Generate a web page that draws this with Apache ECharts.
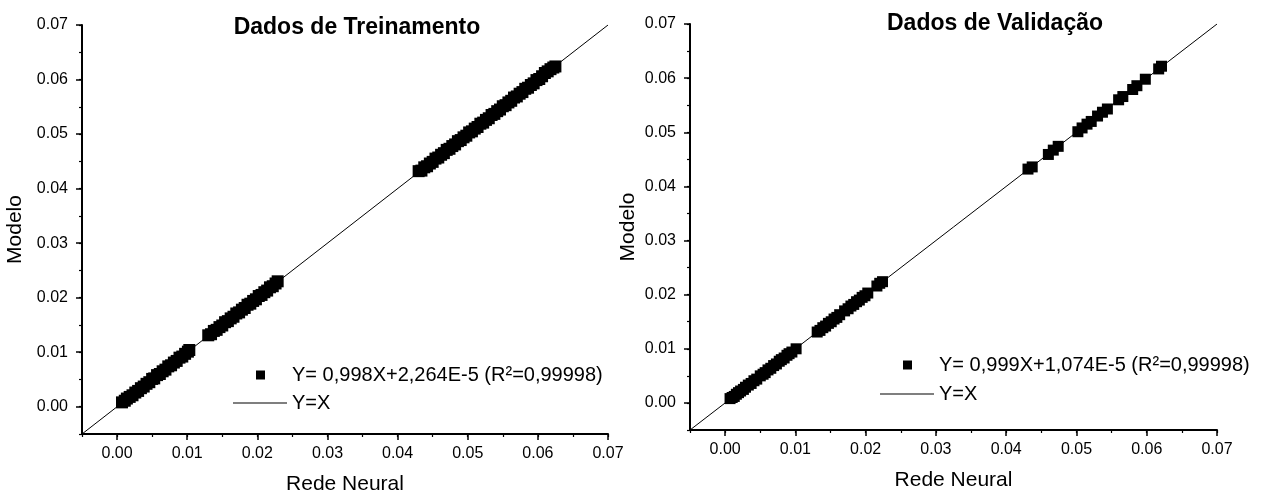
<!DOCTYPE html>
<html>
<head>
<meta charset="utf-8">
<script src="https://cdn.jsdelivr.net/npm/echarts@6/dist/echarts.min.js"></script>
<style>html,body{margin:0;padding:0;background:#fff}#c{width:1263px;height:494px}</style>
</head>
<body>
<div id="c"></div>
<script>
// ---------- data ----------
const titles = ['Dados de Treinamento', 'Dados de Validação'];
const xAxisName = 'Rede Neural';
const yAxisName = 'Modelo';
const tickValues = [0.00, 0.01, 0.02, 0.03, 0.04, 0.05, 0.06, 0.07];
const axisMin = -0.005;
const axisMax = 0.07;
const minorStep = 0.005;
const fitLabels = ['Y= 0,998X+2,264E-5 (R²=0,99998)', 'Y= 0,999X+1,074E-5 (R²=0,99998)'];
const refLabel = 'Y=X';
const refLineX = [-0.005, 0.07];
const refLineY = [-0.005, 0.07];

// Training (Rede Neural, Modelo)
const trainX = [
  0.0007,0.0011,0.0014,0.0018,0.0022,0.0026,0.0030,0.0034,0.0038,0.0042,0.0046,0.0050,0.0053,
  0.0057,0.0061,0.0065,0.0069,0.0073,0.0077,0.0081,0.0085,0.0089,0.0093,0.0097,0.0101,0.0103,
  0.0130,0.0134,0.0138,0.0142,0.0146,0.0150,0.0154,0.0158,0.0162,0.0166,0.0170,0.0174,0.0178,
  0.0182,0.0186,0.0190,0.0194,0.0198,0.0202,0.0206,0.0210,0.0214,0.0218,0.0222,0.0226,0.0229,
  0.0430,0.0434,0.0438,0.0442,0.0446,0.0450,0.0454,0.0458,0.0462,0.0466,0.0470,0.0474,0.0478,
  0.0482,0.0486,0.0490,0.0494,0.0498,0.0502,0.0506,0.0510,0.0514,0.0518,0.0522,0.0526,0.0530,
  0.0534,0.0538,0.0542,0.0546,0.0550,0.0554,0.0558,0.0562,0.0566,0.0570,0.0574,0.0578,0.0582,
  0.0586,0.0590,0.0594,0.0598,0.0602,0.0606,0.0610,0.0614,0.0618,0.0622,0.0625
];
const trainY = [
  0.0008,0.0011,0.0015,0.0018,0.0021,0.0026,0.0029,0.0034,0.0037,0.0042,0.0045,0.0051,0.0052,
  0.0058,0.0060,0.0065,0.0068,0.0074,0.0076,0.0081,0.0084,0.0090,0.0092,0.0097,0.0101,0.0104,
  0.0131,0.0133,0.0139,0.0141,0.0146,0.0149,0.0155,0.0157,0.0162,0.0165,0.0171,0.0173,0.0178,
  0.0181,0.0187,0.0189,0.0194,0.0197,0.0203,0.0205,0.0210,0.0213,0.0219,0.0221,0.0226,0.0230,
  0.0432,0.0433,0.0439,0.0441,0.0446,0.0449,0.0455,0.0457,0.0462,0.0465,0.0471,0.0473,0.0478,
  0.0481,0.0487,0.0489,0.0494,0.0497,0.0503,0.0505,0.0510,0.0513,0.0519,0.0521,0.0526,0.0529,
  0.0535,0.0537,0.0542,0.0545,0.0551,0.0553,0.0558,0.0561,0.0567,0.0569,0.0574,0.0577,0.0583,
  0.0585,0.0590,0.0593,0.0599,0.0601,0.0606,0.0612,0.0615,0.0619,0.0622,0.0624
];

// Validation (Rede Neural, Modelo)
const validX = [
  0.0007,0.0010,0.0013,0.0016,0.0019,0.0022,0.0026,0.0029,0.0033,0.0037,0.0041,0.0045,0.0050,
  0.0054,0.0057,0.0061,0.0065,0.0069,0.0073,0.0077,0.0080,0.0084,0.0088,0.0091,0.0095,0.0101,
  0.0131,0.0135,0.0139,0.0143,0.0147,0.0151,0.0155,0.0159,0.0163,0.0170,0.0175,0.0179,0.0183,
  0.0187,0.0191,0.0195,0.0199,0.0203,0.0216,0.0220,0.0224,
  0.0431,0.0437,0.0460,0.0467,0.0474,0.0502,0.0508,0.0515,0.0521,0.0530,0.0537,0.0544,0.0560,
  0.0566,0.0580,0.0586,0.0598,0.0617,0.0621
];
const validY = [
  0.0008,0.0010,0.0012,0.0016,0.0019,0.0022,0.0025,0.0029,0.0033,0.0036,0.0041,0.0044,0.0050,
  0.0053,0.0056,0.0061,0.0064,0.0069,0.0072,0.0077,0.0080,0.0083,0.0088,0.0091,0.0094,0.0100,
  0.0131,0.0134,0.0139,0.0142,0.0147,0.0150,0.0155,0.0158,0.0163,0.0170,0.0174,0.0179,0.0182,
  0.0187,0.0190,0.0195,0.0198,0.0203,0.0216,0.0221,0.0224,
  0.0432,0.0436,0.0459,0.0467,0.0474,0.0501,0.0508,0.0515,0.0520,0.0530,0.0537,0.0543,0.0560,
  0.0566,0.0579,0.0586,0.0598,0.0617,0.0622
];

// ---------- chart ----------
const FONT = "'Liberation Sans', Arial, sans-serif";
const pairs = (xs, ys) => xs.map((x, i) => [x, ys[i]]);
const fmt = v => v.toFixed(2);

const grids = [
  { left: 82, top: 25, width: 526, height: 409, outerBoundsMode: 'none', containLabel: false },
  { left: 690, top: 24, width: 527, height: 406, outerBoundsMode: 'none', containLabel: false }
];

const xAxes = [], yAxes = [];
const yNameGaps = [56, 51];
grids.forEach((g, gi) => {
  xAxes.push({
    type: 'value', gridIndex: gi, position: 'bottom', min: axisMin, max: axisMax, interval: minorStep,
    name: xAxisName, nameLocation: 'middle', nameGap: 40,
    nameTextStyle: { fontFamily: FONT, fontSize: 21, color: '#000' },
    axisLine: { show: true, onZero: false, lineStyle: { color: '#000', width: 2 } },
    axisTick: { show: true, length: 6, customValues: tickValues, lineStyle: { color: '#000', width: 1.5 } },
    axisLabel: { show: true, customValues: tickValues, formatter: fmt, margin: 12, fontFamily: FONT, fontSize: 16, color: '#000' },
    splitLine: { show: false }
  });
  xAxes.push({
    type: 'value', gridIndex: gi, position: 'bottom', offset: 0, min: axisMin, max: axisMax, interval: minorStep,
    axisLine: { show: false, onZero: false },
    axisTick: { show: true, length: 3, lineStyle: { color: '#000', width: 1.2 } },
    axisLabel: { show: false }, splitLine: { show: false }
  });
  yAxes.push({
    type: 'value', gridIndex: gi, position: 'left', min: axisMin, max: axisMax, interval: minorStep,
    name: yAxisName, nameLocation: 'middle', nameGap: yNameGaps[gi],
    nameTextStyle: { fontFamily: FONT, fontSize: 21, color: '#000' },
    axisLine: { show: true, onZero: false, lineStyle: { color: '#000', width: 2 } },
    axisTick: { show: true, length: 6, customValues: tickValues, lineStyle: { color: '#000', width: 1.5 } },
    axisLabel: { show: true, customValues: tickValues, formatter: fmt, margin: 14, fontFamily: FONT, fontSize: 16, color: '#000' },
    splitLine: { show: false }
  });
  yAxes.push({
    type: 'value', gridIndex: gi, position: 'left', offset: 0, min: axisMin, max: axisMax, interval: minorStep,
    axisLine: { show: false, onZero: false },
    axisTick: { show: true, length: 3, lineStyle: { color: '#000', width: 1.2 } },
    axisLabel: { show: false }, splitLine: { show: false }
  });
});

const sets = [pairs(trainX, trainY), pairs(validX, validY)];
const series = [];
sets.forEach((d, gi) => {
  series.push({
    name: refLabel, type: 'line', xAxisIndex: gi * 2, yAxisIndex: gi * 2,
    data: pairs(refLineX, refLineY), symbol: 'none', color: '#000',
    lineStyle: { color: '#000', width: 1 }, z: 2, silent: true
  });
  series.push({
    name: fitLabels[gi], type: 'scatter', xAxisIndex: gi * 2, yAxisIndex: gi * 2,
    data: d, symbol: 'rect', symbolSize: gi === 0 ? 12 : 11, color: '#000',
    itemStyle: { color: '#000', opacity: 1 }, z: 3, silent: true
  });
});

const sqIcon = 'path://M0,4h0.01v0.01zM23,0h9v9h-9zM54,4h-0.01v0.01z';
const legendBase = {
  orient: 'vertical', selectedMode: false, itemGap: 0, padding: 0,
  textStyle: { fontFamily: FONT, fontSize: 20, color: '#000' }
};
const legends = [
  Object.assign({}, legendBase, { left: 233, top: 365, data: [{ name: fitLabels[0], icon: sqIcon }], itemWidth: 54, itemHeight: 9 }),
  Object.assign({}, legendBase, { left: 233, top: 393, data: [{ name: refLabel, icon: 'rect' }], itemWidth: 54, itemHeight: 1 }),
  Object.assign({}, legendBase, { left: 880, top: 355, data: [{ name: fitLabels[1], icon: sqIcon }], itemWidth: 54, itemHeight: 9 }),
  Object.assign({}, legendBase, { left: 880, top: 384, data: [{ name: refLabel, icon: 'rect' }], itemWidth: 54, itemHeight: 1 })
];

const chart = echarts.init(document.getElementById('c'), null, { renderer: 'canvas' });
chart.setOption({
  animation: false,
  backgroundColor: '#fff',
  title: [
    { text: titles[0], left: 352, top: 11, textAlign: 'center', textStyle: { fontFamily: FONT, fontSize: 23, fontWeight: 'bold', color: '#000' } },
    { text: titles[1], left: 990, top: 7, textAlign: 'center', textStyle: { fontFamily: FONT, fontSize: 23, fontWeight: 'bold', color: '#000' } }
  ],
  legend: legends,
  grid: grids,
  xAxis: xAxes,
  yAxis: yAxes,
  series: series
});
</script>
</body>
</html>
